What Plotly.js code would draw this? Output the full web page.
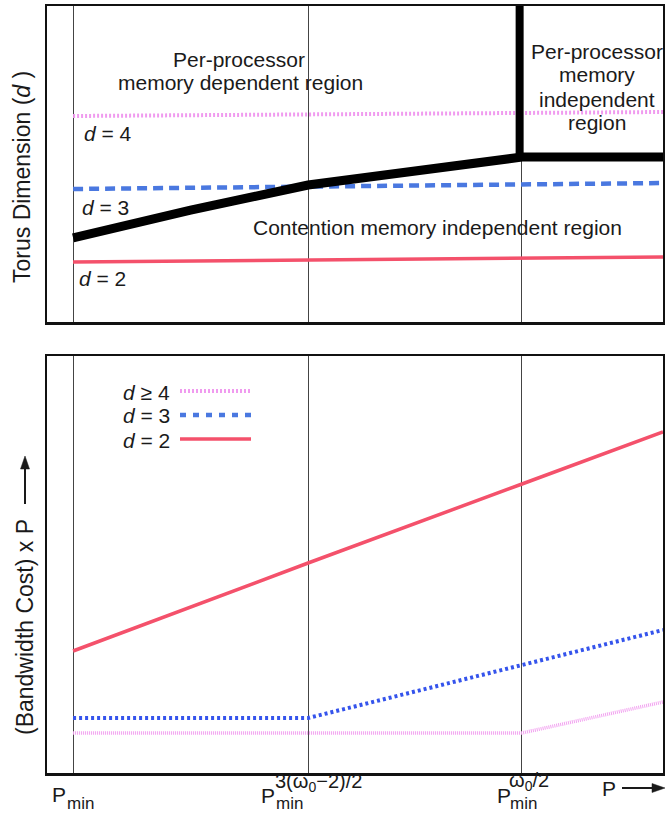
<!DOCTYPE html>
<html>
<head>
<meta charset="utf-8">
<script src="https://cdn.plot.ly/plotly-3.0.1.min.js"></script>
<style>
html,body{margin:0;padding:0;background:#fff;}
#chart{width:665px;height:813px;}
</style>
</head>
<body>
<div id="chart"></div>
<script>
// ---- Data ----
// x positions of P_min, P_min^{3(w0-2)/2}, P_min^{w0/2} and the right end of the axis
const xTicks = [0, 1, 1.91];
const xEnd = 2.51;

// Top panel: torus dimension regions
const topX = [0, xEnd];
const topD4 = [4.0, 4.055];
const topD3 = [3.0, 3.082];
const topD2 = [2.0, 2.068];
const boundaryX = [0, 0.5, 1, 1.91, xEnd];
const boundaryY = [2.329, 2.71, 3.055, 3.438, 3.44];
const dividerX = [1.9, 1.9];
const dividerY = [3.438, 5.6];

// Bottom panel: (bandwidth cost) x P
const botX = [0, 1, 1.91, xEnd];
const costD2 = [12.2, 21.0, 28.9, 34.1];
const costD3 = [5.5, 5.5, 10.8, 14.3];
const costD4 = [4.0, 4.0, 4.0, 7.1];

// ---- Styling helpers ----
const W = 665, H = 813;
const px = v => v / W;
const py = v => 1 - v / H;
const FONT = 'Liberation Sans, Arial, Helvetica, sans-serif';
const TXT = '#1a1a1a';
const PINK = '#f09bef', PINK2 = '#f2a2f0';
const BLUE = '#4a78e0', BLUE2 = '#3554ec';
const RED = '#f4516b';

const traces = [
  {x: topX, y: topD4, xaxis: 'x', yaxis: 'y', mode: 'lines', line: {color: PINK, width: 4, dash: '2px,2px'}},
  {x: topX, y: topD3, xaxis: 'x', yaxis: 'y', mode: 'lines', line: {color: BLUE, width: 4.5, dash: '10px,6px'}},
  {x: topX, y: topD2, xaxis: 'x', yaxis: 'y', mode: 'lines', line: {color: RED, width: 3.5}},
  {x: boundaryX, y: boundaryY, xaxis: 'x', yaxis: 'y', mode: 'lines', line: {color: '#000', width: 9}},
  {x: dividerX, y: dividerY, xaxis: 'x', yaxis: 'y', mode: 'lines', line: {color: '#000', width: 8}},
  {x: botX, y: costD2, xaxis: 'x2', yaxis: 'y2', mode: 'lines', line: {color: RED, width: 3.5}},
  {x: botX, y: costD3, xaxis: 'x2', yaxis: 'y2', mode: 'lines', line: {color: BLUE2, width: 4, dash: '3px,3px'}},
  {x: botX, y: costD4, xaxis: 'x2', yaxis: 'y2', mode: 'lines', line: {color: PINK2, width: 3.5, dash: '1px,1px'}}
];

const xDomain = [px(47), px(663)];
const xRange = [-0.111, xEnd];
const axBase = {
  showline: true, mirror: true, linewidth: 2.5, linecolor: '#111',
  zeroline: false, ticks: '', showticklabels: false, fixedrange: true
};

const ann = [];
function txt(text, x, y, size, opts) {
  ann.push(Object.assign({
    text: text, xref: 'paper', yref: 'paper', x: px(x), y: py(y),
    xanchor: 'center', yanchor: 'middle', showarrow: false, borderpad: 0,
    font: {family: FONT, size: size, color: TXT}
  }, opts || {}));
}

// region labels (top panel)
txt('Per-processor', 239, 59, 21);
txt('memory dependent region', 240, 83, 21);
['Per-processor', 'memory', 'independent', 'region'].forEach((s, i) => txt(s, 597, 51 + i * 24, 21));
txt('Contention memory independent region', 437, 228, 21);
txt('<i>d</i> = 4', 83, 133, 21, {xanchor: 'left'});
txt('<i>d</i> = 3', 81, 207, 21, {xanchor: 'left'});
txt('<i>d</i> = 2', 78, 278, 21, {xanchor: 'left'});

// legend (bottom panel)
const legendRows = [
  {label: '<i>d</i> ≥ 4', y: 392, color: PINK, width: 4, dash: '2px,2px'},
  {label: '<i>d</i> = 3', y: 416, color: BLUE, width: 4.5, dash: '6px,7px'},
  {label: '<i>d</i> = 2', y: 440, color: RED, width: 3.5, dash: 'solid'}
];
const shapes = [];
legendRows.forEach(r => {
  txt(r.label, 171, r.y, 21, {xanchor: 'right'});
  shapes.push({type: 'line', xref: 'paper', yref: 'paper', x0: px(180), x1: px(251), y0: py(r.y - 1), y1: py(r.y - 1),
    line: {color: r.color, width: r.width, dash: r.dash}});
});

// y-axis titles
txt('Torus Dimension (<i>d</i> )', 22, 177, 23, {textangle: -90});
txt('(Bandwidth Cost) x P', 25, 627, 23, {textangle: -90});
// up arrow next to the bottom y title
shapes.push({type: 'line', xref: 'paper', yref: 'paper', x0: px(25), x1: px(25), y0: py(504), y1: py(466),
  line: {color: TXT, width: 2}});
shapes.push({type: 'path', xref: 'paper', yref: 'paper',
  path: `M ${px(25)} ${py(456)} L ${px(20.5)} ${py(469)} L ${px(29.5)} ${py(469)} Z`,
  fillcolor: TXT, line: {color: TXT, width: 0.5}});

// x tick labels
txt('P', 51, 794, 21, {xanchor: 'left'});
txt('min', 66, 803, 17, {xanchor: 'left'});
txt('P', 260, 795, 21, {xanchor: 'left'});
txt('min', 275, 803, 17, {xanchor: 'left'});
txt('3(ω<sub>0</sub>−2)/2', 274, 782, 20, {xanchor: 'left'});
txt('P', 496, 795, 21, {xanchor: 'left'});
txt('min', 509, 803, 17, {xanchor: 'left'});
txt('ω<sub>0</sub>/2', 508, 781, 20, {xanchor: 'left'});
txt('P', 601, 788, 21, {xanchor: 'left'});
// right arrow after P
shapes.push({type: 'line', xref: 'paper', yref: 'paper', x0: px(622), x1: px(654), y0: py(788), y1: py(788),
  line: {color: TXT, width: 2}});
shapes.push({type: 'path', xref: 'paper', yref: 'paper',
  path: `M ${px(665)} ${py(788)} L ${px(652)} ${py(783.5)} L ${px(652)} ${py(792.5)} Z`,
  fillcolor: TXT, line: {color: TXT, width: 0.5}});

const layout = {
  width: W, height: H,
  margin: {l: 0, r: 0, t: 0, b: 0},
  paper_bgcolor: '#fff', plot_bgcolor: '#fff',
  showlegend: false,
  font: {family: FONT, color: TXT},
  xaxis: Object.assign({}, axBase, {domain: xDomain, range: xRange, anchor: 'y',
    tickvals: xTicks, showgrid: true, gridcolor: '#444', gridwidth: 1}),
  yaxis: Object.assign({}, axBase, {domain: [py(322), py(6)], range: [1.178, 5.507], anchor: 'x', showgrid: false}),
  xaxis2: Object.assign({}, axBase, {domain: xDomain, range: xRange, anchor: 'y2',
    tickvals: xTicks, showgrid: true, gridcolor: '#444', gridwidth: 1}),
  yaxis2: Object.assign({}, axBase, {domain: [py(773), py(356)], range: [0, 41.7], anchor: 'x2', showgrid: false}),
  annotations: ann,
  shapes: shapes
};

Plotly.newPlot('chart', traces, layout, {staticPlot: true, displayModeBar: false});
</script>
</body>
</html>
